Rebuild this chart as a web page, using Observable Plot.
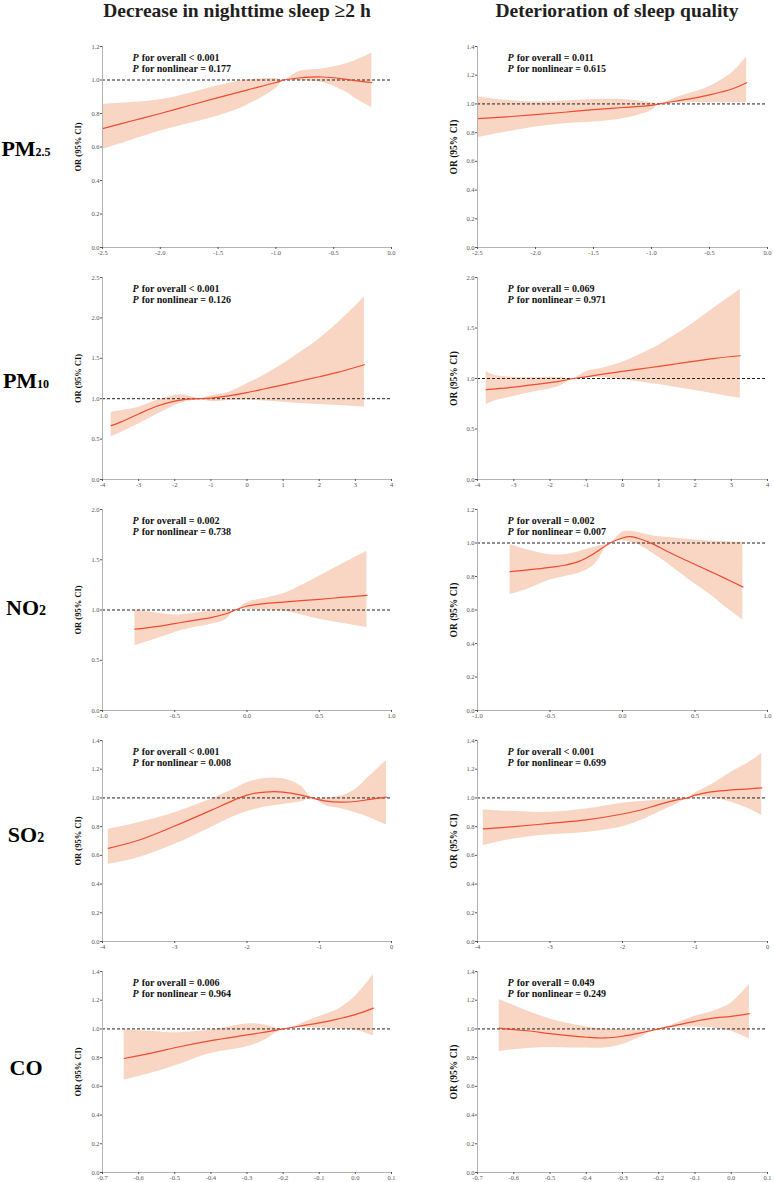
<!DOCTYPE html>
<html><head><meta charset="utf-8">
<script src="https://cdn.jsdelivr.net/npm/d3@7"></script>
<script src="https://cdn.jsdelivr.net/npm/@observablehq/plot@0.6"></script>
<style>
body{margin:0;background:#fff;}
#root{position:relative;width:774px;height:1182px;font-family:"Liberation Serif","Times New Roman",serif;overflow:hidden;}
.abs{position:absolute;white-space:nowrap;}
.coltitle{font-weight:bold;font-size:19.5px;line-height:19.5px;color:#231f20;transform:translateX(-50%);}
.rowlab{font-weight:bold;font-size:22px;line-height:22px;color:#000;transform:translateX(-50%);}
.panel svg{display:block;}
</style></head>
<body><div id="root"></div>
<script>
// ---------- column titles and row labels ----------
const columnTitles = ["Decrease in nighttime sleep \u22652 h", "Deterioration of sleep quality"];
const pollutantMain = ["PM", "PM", "NO", "SO", "CO"];
const pollutantSub = ["2.5", "10", "2", "2", ""];

// ---------- P values ----------
const pOverallDur = ["< 0.001", "< 0.001", "= 0.002", "< 0.001", "= 0.006"];
const pNonlinDur = ["= 0.177", "= 0.126", "= 0.738", "= 0.008", "= 0.964"];
const pOverallQual = ["= 0.011", "= 0.069", "= 0.002", "< 0.001", "= 0.049"];
const pNonlinQual = ["= 0.615", "= 0.971", "= 0.007", "= 0.699", "= 0.249"];

// ---------- axis ticks ----------
const xTicksPm25 = [-2.5, -2.0, -1.5, -1.0, -0.5, 0.0];
const xTicksPm10 = [-4, -3, -2, -1, 0, 1, 2, 3, 4];
const xTicksNo2 = [-1.0, -0.5, 0.0, 0.5, 1.0];
const xTicksSo2 = [-4, -3, -2, -1, 0];
const xTicksCo = [-0.7, -0.6, -0.5, -0.4, -0.3, -0.2, -0.1, 0.0, 0.1];
const yTicks12 = [0, 0.2, 0.4, 0.6, 0.8, 1.0, 1.2];
const yTicks14 = [0, 0.2, 0.4, 0.6, 0.8, 1.0, 1.2, 1.4];
const yTicks20 = [0, 0.5, 1.0, 1.5, 2.0];
const yTicks25 = [0, 0.5, 1.0, 1.5, 2.0, 2.5];

// ---------- PM2.5 ----------
const pm25_dur_x  = [-2.5, -2.25, -2.0, -1.75, -1.5, -1.25, -1.0, -0.93, -0.8, -0.6, -0.4, -0.3, -0.17];
const pm25_dur_or = [0.71, 0.755, 0.80, 0.848, 0.895, 0.94, 0.985, 1.0, 1.012, 1.018, 1.005, 0.995, 0.985];
const pm25_dur_hi = [0.854, 0.865, 0.882, 0.92, 0.965, 1.0, 1.008, 1.0, 1.05, 1.065, 1.095, 1.12, 1.16];
const pm25_dur_lo = [0.584, 0.64, 0.695, 0.74, 0.785, 0.85, 0.95, 1.0, 0.995, 0.985, 0.93, 0.885, 0.834];

const pm25_qual_x  = [-2.5, -2.25, -2.0, -1.75, -1.5, -1.25, -1.0, -0.93, -0.75, -0.6, -0.5, -0.4, -0.3, -0.18];
const pm25_qual_or = [0.897, 0.91, 0.925, 0.942, 0.96, 0.975, 0.99, 1.0, 1.025, 1.046, 1.063, 1.083, 1.106, 1.148];
const pm25_qual_hi = [1.048, 1.025, 1.013, 1.02, 1.03, 1.03, 1.008, 1.0, 1.055, 1.09, 1.122, 1.165, 1.22, 1.326];
const pm25_qual_lo = [0.765, 0.804, 0.839, 0.862, 0.874, 0.897, 0.955, 1.0, 1.006, 1.008, 1.008, 1.008, 1.008, 1.008];

// ---------- PM10 ----------
const pm10_dur_x  = [-3.76, -3.5, -3.0, -2.5, -2.0, -1.75, -1.5, -1.3, -1.0, -0.5, 0, 0.5, 1.0, 1.5, 2.0, 2.5, 3.25];
const pm10_dur_or = [0.666, 0.71, 0.811, 0.906, 0.97, 0.988, 0.997, 1.0, 1.007, 1.035, 1.075, 1.123, 1.171, 1.222, 1.272, 1.325, 1.42];
const pm10_dur_hi = [0.832, 0.85, 0.894, 0.977, 1.039, 1.047, 1.02, 1.0, 1.035, 1.08, 1.184, 1.296, 1.43, 1.58, 1.74, 1.93, 2.26];
const pm10_dur_lo = [0.53, 0.58, 0.687, 0.803, 0.915, 0.956, 0.977, 1.0, 0.965, 0.977, 0.985, 0.97, 0.956, 0.94, 0.927, 0.915, 0.894];

const pm10_qual_x  = [-3.76, -3.5, -3.0, -2.5, -2.0, -1.75, -1.35, -1.0, -0.5, 0, 0.5, 1.0, 1.5, 2.0, 2.5, 3.25];
const pm10_qual_or = [0.89, 0.898, 0.914, 0.937, 0.96, 0.972, 1.0, 1.017, 1.045, 1.07, 1.095, 1.12, 1.146, 1.172, 1.197, 1.225];
const pm10_qual_hi = [1.07, 1.03, 1.013, 1.007, 1.013, 1.01, 1.0, 1.07, 1.106, 1.162, 1.24, 1.33, 1.44, 1.56, 1.69, 1.88];
const pm10_qual_lo = [0.742, 0.78, 0.821, 0.864, 0.897, 0.92, 1.0, 1.013, 1.007, 0.987, 0.965, 0.94, 0.91, 0.88, 0.85, 0.805];

// ---------- NO2 ----------
const no2_dur_x  = [-0.775, -0.6, -0.5, -0.4, -0.25, -0.15, -0.08, 0, 0.1, 0.25, 0.5, 0.65, 0.83];
const no2_dur_or = [0.809, 0.84, 0.865, 0.89, 0.924, 0.96, 1.0, 1.04, 1.06, 1.079, 1.106, 1.125, 1.145];
const no2_dur_hi = [1.0, 0.965, 0.95, 0.96, 0.99, 1.0, 1.0, 1.073, 1.11, 1.162, 1.337, 1.45, 1.584];
const no2_dur_lo = [0.644, 0.726, 0.776, 0.815, 0.858, 0.9, 1.0, 1.007, 1.0, 0.99, 0.908, 0.87, 0.825];

const no2_qual_x  = [-0.775, -0.65, -0.5, -0.4, -0.3, -0.2, -0.085, 0, 0.05, 0.1, 0.2, 0.3, 0.4, 0.5, 0.6, 0.7, 0.83];
const no2_qual_or = [0.829, 0.84, 0.855, 0.867, 0.89, 0.935, 1.0, 1.03, 1.038, 1.03, 0.998, 0.954, 0.912, 0.872, 0.832, 0.792, 0.738];
const no2_qual_hi = [0.99, 0.958, 0.93, 0.93, 0.948, 0.974, 1.0, 1.064, 1.07, 1.064, 1.044, 1.034, 1.025, 1.018, 1.012, 1.008, 1.004];
const no2_qual_lo = [0.692, 0.726, 0.779, 0.799, 0.819, 0.865, 1.0, 1.014, 1.005, 0.994, 0.944, 0.885, 0.819, 0.755, 0.696, 0.626, 0.541];

// ---------- SO2 ----------
const so2_dur_x  = [-3.92, -3.5, -3.0, -2.5, -2.18, -2.0, -1.75, -1.5, -1.25, -1.1, -0.9, -0.7, -0.5, -0.3, -0.07];
const so2_dur_or = [0.649, 0.705, 0.804, 0.913, 0.985, 1.02, 1.041, 1.041, 1.02, 1.0, 0.978, 0.971, 0.975, 0.99, 1.006];
const so2_dur_hi = [0.781, 0.827, 0.897, 0.99, 1.06, 1.105, 1.136, 1.133, 1.082, 1.0, 1.0, 1.013, 1.059, 1.152, 1.26];
const so2_dur_lo = [0.538, 0.584, 0.677, 0.793, 0.87, 0.904, 0.936, 0.955, 0.973, 1.0, 0.943, 0.925, 0.897, 0.862, 0.811];

const so2_qual_x  = [-3.92, -3.5, -3.0, -2.5, -2.0, -1.75, -1.5, -1.25, -1.1, -1.0, -0.75, -0.5, -0.25, -0.08];
const so2_qual_or = [0.784, 0.8, 0.823, 0.847, 0.888, 0.916, 0.953, 0.986, 1.0, 1.019, 1.044, 1.056, 1.063, 1.07];
const so2_qual_hi = [0.916, 0.905, 0.9, 0.923, 0.963, 0.975, 0.985, 0.995, 1.0, 1.033, 1.098, 1.179, 1.249, 1.312];
const so2_qual_lo = [0.667, 0.714, 0.744, 0.76, 0.8, 0.842, 0.9, 0.958, 1.0, 1.009, 1.0, 0.97, 0.923, 0.877];

// ---------- CO ----------
const co_dur_x  = [-0.64, -0.55, -0.5, -0.4, -0.3, -0.25, -0.2, -0.1, -0.05, 0, 0.05];
const co_dur_or = [0.794, 0.84, 0.869, 0.918, 0.958, 0.978, 1.0, 1.042, 1.068, 1.1, 1.145];
const co_dur_hi = [0.993, 0.981, 0.974, 0.993, 1.035, 1.028, 1.0, 1.086, 1.133, 1.227, 1.379];
const co_dur_lo = [0.643, 0.701, 0.741, 0.829, 0.876, 0.923, 1.0, 1.005, 1.0, 0.993, 0.951];

const co_qual_x  = [-0.64, -0.6, -0.55, -0.5, -0.45, -0.4, -0.35, -0.3, -0.25, -0.2, -0.1, -0.05, 0, 0.05];
const co_qual_or = [1.005, 0.995, 0.984, 0.967, 0.953, 0.942, 0.937, 0.949, 0.972, 1.0, 1.053, 1.075, 1.088, 1.107];
const co_qual_hi = [1.205, 1.163, 1.112, 1.07, 1.037, 1.014, 1.0, 0.995, 0.991, 1.0, 1.088, 1.123, 1.181, 1.309];
const co_qual_lo = [0.842, 0.855, 0.865, 0.87, 0.868, 0.867, 0.867, 0.891, 0.944, 1.0, 1.014, 1.007, 0.984, 0.93];

// ---------- layout ----------
const rowTop = [46, 277, 509, 740, 971];
const rowZero = [247, 479, 710, 941, 1172];
const colGeo = [
  {left: 0, width: 396, ml: 102, mr: 5, ylabSize: 8.5},
  {left: 390, width: 384, ml: 87, mr: 7, ylabSize: 9.5}
];
const fmt1 = d => d.toFixed(1);
const fmt0 = d => d.toFixed(0);

const panels = [
  {row: 0, col: 0, x: pm25_dur_x, or: pm25_dur_or, lo: pm25_dur_lo, hi: pm25_dur_hi, xTicks: xTicksPm25, xf: fmt1, yTicks: yTicks12, po: pOverallDur[0], pn: pNonlinDur[0]},
  {row: 0, col: 1, x: pm25_qual_x, or: pm25_qual_or, lo: pm25_qual_lo, hi: pm25_qual_hi, xTicks: xTicksPm25, xf: fmt1, yTicks: yTicks14, po: pOverallQual[0], pn: pNonlinQual[0]},
  {row: 1, col: 0, x: pm10_dur_x, or: pm10_dur_or, lo: pm10_dur_lo, hi: pm10_dur_hi, xTicks: xTicksPm10, xf: fmt0, yTicks: yTicks25, po: pOverallDur[1], pn: pNonlinDur[1]},
  {row: 1, col: 1, x: pm10_qual_x, or: pm10_qual_or, lo: pm10_qual_lo, hi: pm10_qual_hi, xTicks: xTicksPm10, xf: fmt0, yTicks: yTicks20, po: pOverallQual[1], pn: pNonlinQual[1]},
  {row: 2, col: 0, x: no2_dur_x, or: no2_dur_or, lo: no2_dur_lo, hi: no2_dur_hi, xTicks: xTicksNo2, xf: fmt1, yTicks: yTicks20, po: pOverallDur[2], pn: pNonlinDur[2]},
  {row: 2, col: 1, x: no2_qual_x, or: no2_qual_or, lo: no2_qual_lo, hi: no2_qual_hi, xTicks: xTicksNo2, xf: fmt1, yTicks: yTicks12, po: pOverallQual[2], pn: pNonlinQual[2]},
  {row: 3, col: 0, x: so2_dur_x, or: so2_dur_or, lo: so2_dur_lo, hi: so2_dur_hi, xTicks: xTicksSo2, xf: fmt0, yTicks: yTicks14, po: pOverallDur[3], pn: pNonlinDur[3]},
  {row: 3, col: 1, x: so2_qual_x, or: so2_qual_or, lo: so2_qual_lo, hi: so2_qual_hi, xTicks: xTicksSo2, xf: fmt0, yTicks: yTicks14, po: pOverallQual[3], pn: pNonlinQual[3]},
  {row: 4, col: 0, x: co_dur_x, or: co_dur_or, lo: co_dur_lo, hi: co_dur_hi, xTicks: xTicksCo, xf: fmt1, yTicks: yTicks14, po: pOverallDur[4], pn: pNonlinDur[4]},
  {row: 4, col: 1, x: co_qual_x, or: co_qual_or, lo: co_qual_lo, hi: co_qual_hi, xTicks: xTicksCo, xf: fmt1, yTicks: yTicks14, po: pOverallQual[4], pn: pNonlinQual[4]}
];

const root = document.getElementById("root");

// column titles
const titleCenters = [237, 617];
columnTitles.forEach((t, i) => {
  const d = document.createElement("div");
  d.className = "abs coltitle";
  d.style.left = titleCenters[i] + "px";
  d.style.top = (17.5 - 0.8375 * 19.5) + "px";
  d.textContent = t;
  root.appendChild(d);
});

// row labels
const rowBaseline = [156, 388, 615, 842, 1075];
pollutantMain.forEach((m, i) => {
  const d = document.createElement("div");
  d.className = "abs rowlab";
  d.style.left = "26px";
  d.style.top = (rowBaseline[i] - 0.8375 * 22) + "px";
  d.appendChild(document.createTextNode(m));
  if (pollutantSub[i]) {
    const s = document.createElement("span");
    s.style.fontSize = (pollutantSub[i].length > 1 ? 12 : 14) + "px";
    s.textContent = pollutantSub[i];
    d.appendChild(s);
  }
  root.appendChild(d);
});

const MT = 8, MB = 14;
const txt = {frameAnchor: "top-left", fontWeight: "bold", fontSize: 10, fill: "#111", textAnchor: "start", lineAnchor: "bottom"};
panels.forEach(p => {
  const g = colGeo[p.col];
  const top = rowTop[p.row], zero = rowZero[p.row];
  const data = p.x.map((x, i) => ({x, or: p.or[i], lo: p.lo[i], hi: p.hi[i]}));
  const xDomain = [p.xTicks[0], p.xTicks[p.xTicks.length - 1]];
  const yDomain = [0, p.yTicks[p.yTicks.length - 1]];
  const chart = Plot.plot({
    width: g.width,
    height: MT + (zero - top) + MB,
    marginLeft: g.ml, marginRight: g.mr, marginTop: MT, marginBottom: MB,
    style: {fontFamily: "'Liberation Serif', 'Times New Roman', serif", fontSize: "6.5px", background: "transparent", overflow: "visible"},
    x: {domain: xDomain},
    y: {domain: yDomain},
    marks: [
      Plot.areaY(data, {x: "x", y1: "lo", y2: "hi", fill: "#F9D5C4", curve: "catmull-rom"}),
      Plot.ruleY([1], {stroke: "#222", strokeWidth: 1, strokeDasharray: "3,2"}),
      Plot.lineY(data, {x: "x", y: "or", stroke: "#EE4B2F", strokeWidth: 1.2, curve: "catmull-rom"}),
      Plot.ruleX([xDomain[0]], {stroke: "#b3b3b3", strokeWidth: 1}),
      Plot.ruleY([0], {stroke: "#b3b3b3", strokeWidth: 1}),
      Plot.axisX({ticks: p.xTicks, tickFormat: p.xf, tickSize: 2, tickPadding: 1, label: null, color: "#555", fontSize: 6.5}),
      Plot.axisY({ticks: p.yTicks, tickFormat: fmt1, tickSize: 2, tickPadding: 1, label: null, color: "#555", fontSize: 6.5}),
      Plot.text(["OR (95% CI)"], {text: d => d, frameAnchor: "left", dx: -24, rotate: -90, fontWeight: "bold", fontSize: g.ylabSize, fill: "#111", textAnchor: "middle", lineAnchor: "middle"}),
      Plot.text(["P"], {...txt, text: d => d, dx: 30, dy: 14, fontStyle: "italic"}),
      Plot.text(["P"], {...txt, text: d => d, dx: 30, dy: 25, fontStyle: "italic"}),
      Plot.text(["for overall " + p.po], {...txt, text: d => d, dx: 39.2, dy: 14}),
      Plot.text(["for nonlinear " + p.pn], {...txt, text: d => d, dx: 39.2, dy: 25})
    ]
  });
  const wrap = document.createElement("div");
  wrap.className = "abs panel";
  wrap.style.left = g.left + "px";
  wrap.style.top = (top - MT) + "px";
  wrap.appendChild(chart);
  root.appendChild(wrap);
});
</script>
</body></html>
